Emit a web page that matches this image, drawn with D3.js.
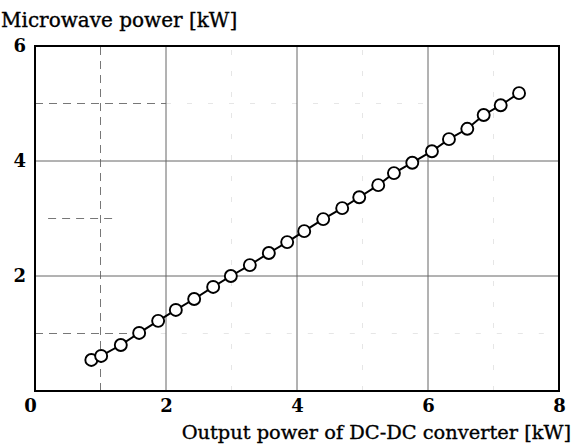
<!DOCTYPE html>
<html>
<head>
<meta charset="utf-8">
<script src="https://cdn.jsdelivr.net/npm/d3@7"></script>
<style>
  body { margin: 0; background: #fff; }
</style>
</head>
<body>
<div id="chart"></div>
<script>
// measured points (output power of DC-DC converter, microwave power), kW
var outputPower = [0.86, 1.01, 1.31, 1.59, 1.88, 2.15, 2.43, 2.72, 2.99, 3.28, 3.57, 3.85, 4.11,
                   4.40, 4.69, 4.95, 5.24, 5.48, 5.76, 6.06, 6.32, 6.60, 6.85, 7.11, 7.39];
var microwavePower = [0.54, 0.61, 0.80, 1.01, 1.22, 1.41, 1.60, 1.81, 2.00, 2.19, 2.40, 2.59, 2.78,
                      2.99, 3.18, 3.37, 3.58, 3.79, 3.97, 4.17, 4.38, 4.56, 4.80, 4.97, 5.18];
var xTicks = [0, 2, 4, 6, 8];
var yTicks = [2, 4, 6];
var xMajor = [2, 4, 6];
var yMajor = [2, 4];
// dashed minor grid pieces still visible in the scan: [x1, y1, x2, y2]
var minorDashed = [[1, 0, 1, 6], [0, 5, 2, 5], [0, 1, 1.6, 1], [0.2, 3, 1.25, 3]];
var minorFaint = [[2, 5, 6, 5], [1.6, 1, 8, 1], [3, 0, 3, 6], [5, 0, 5, 6], [7, 0, 7, 6]];

var serif = "'DejaVu Serif', 'Liberation Serif', serif";

var data = outputPower.map(function(d, i) { return { x: d, y: microwavePower[i] }; });

var margin = { top: 46, right: 14, bottom: 55, left: 35 },
    width = 573 - margin.left - margin.right,
    height = 446 - margin.top - margin.bottom;

var x = d3.scaleLinear().domain([0, 8]).range([0, width]);
var y = d3.scaleLinear().domain([0, 6]).range([height, 0]);

var svg = d3.select("#chart").append("svg")
    .attr("width", 573)
    .attr("height", 446)
  .append("g")
    .attr("transform", "translate(" + margin.left + "," + margin.top + ")");

// faint dashed pieces
svg.selectAll(".faint")
    .data(minorFaint)
    .enter().append("line")
    .attr("x1", function(d) { return x(d[0]); })
    .attr("y1", function(d) { return y(d[1]); })
    .attr("x2", function(d) { return x(d[2]); })
    .attr("y2", function(d) { return y(d[3]); })
    .attr("stroke", "#e6e6e6")
    .attr("stroke-width", 1)
    .attr("stroke-dasharray", "5,16");

svg.selectAll(".dashed")
    .data(minorDashed)
    .enter().append("line")
    .attr("x1", function(d) { return x(d[0]); })
    .attr("y1", function(d) { return y(d[1]); })
    .attr("x2", function(d) { return x(d[2]); })
    .attr("y2", function(d) { return y(d[3]); })
    .attr("stroke", "#777")
    .attr("stroke-width", 1)
    .attr("stroke-dasharray", "8,6");

// major grid
svg.selectAll(".vgrid")
    .data(xMajor)
    .enter().append("line")
    .attr("x1", function(d) { return x(d); })
    .attr("x2", function(d) { return x(d); })
    .attr("y1", 0)
    .attr("y2", height)
    .attr("stroke", "#666")
    .attr("stroke-width", 1);

svg.selectAll(".hgrid")
    .data(yMajor)
    .enter().append("line")
    .attr("y1", function(d) { return y(d); })
    .attr("y2", function(d) { return y(d); })
    .attr("x1", 0)
    .attr("x2", width)
    .attr("stroke", "#666")
    .attr("stroke-width", 1);

// frame
svg.append("rect")
    .attr("width", width)
    .attr("height", height)
    .attr("fill", "none")
    .attr("stroke", "#000")
    .attr("stroke-width", 2);

// axes (labels only)
var xAxis = svg.append("g")
    .attr("transform", "translate(0," + height + ")")
    .call(d3.axisBottom(x).tickValues(xTicks).tickSize(0).tickPadding(8).tickFormat(d3.format("d")));
xAxis.attr("font-family", serif).attr("font-size", 18).attr("font-weight", "bold");
xAxis.select(".domain").remove();
xAxis.selectAll(".tick").filter(function(d) { return d === 0; }).select("text").attr("dx", "-5");

var yAxis = svg.append("g")
    .call(d3.axisLeft(y).tickValues(yTicks).tickSize(0).tickPadding(9).tickFormat(d3.format("d")));
yAxis.attr("font-family", serif).attr("font-size", 18).attr("font-weight", "bold");
yAxis.select(".domain").remove();

// line and markers
svg.append("path")
    .datum(data)
    .attr("fill", "none")
    .attr("stroke", "#000")
    .attr("stroke-width", 2)
    .attr("d", d3.line()
        .x(function(d) { return x(d.x); })
        .y(function(d) { return y(d.y); }));

svg.selectAll(".dot")
    .data(data)
    .enter().append("circle")
    .attr("class", "dot")
    .attr("r", 6)
    .attr("cx", function(d) { return x(d.x); })
    .attr("cy", function(d) { return y(d.y); })
    .attr("fill", "#fff")
    .attr("stroke", "#000")
    .attr("stroke-width", 1.9);

// titles
svg.append("text")
    .attr("x", -margin.left + 1)
    .attr("y", -margin.top + 27)
    .attr("font-family", serif)
    .attr("font-size", 20)
    .attr("stroke", "#000")
    .attr("stroke-width", 0.35)
    .text("Microwave power [kW]");

svg.append("text")
    .attr("x", width + margin.right - 2)
    .attr("y", height + 48)
    .attr("text-anchor", "end")
    .attr("font-family", serif)
    .attr("font-size", 19.4)
    .attr("stroke", "#000")
    .attr("stroke-width", 0.35)
    .text("Output power of DC-DC converter [kW]");
</script>
</body>
</html>
